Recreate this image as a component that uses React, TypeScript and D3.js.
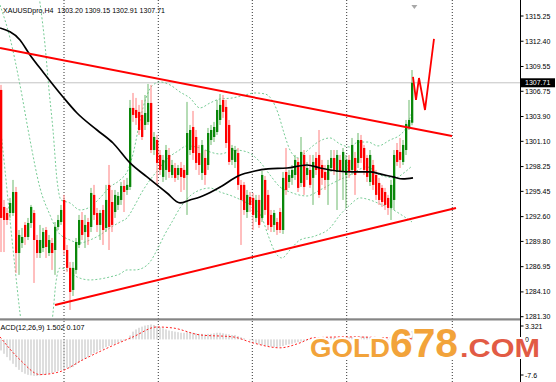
import React from 'react';
import * as d3 from 'd3';

const W = 556;
const H = 382;

const titleText = 'XAUUSDpro,H4  1303.20 1309.15 1302.91 1307.71';
const macdTitle = 'ACD(12,26,9) 1.502 0.107';
const lastPrice = 1307.71;

const priceTicks = [1315.25, 1312.4, 1309.55, 1306.75, 1303.9, 1301.1, 1298.25, 1295.45, 1292.6, 1289.8, 1286.95, 1284.1, 1281.3];
const macdTicks = [3.321, 0, -7.6];
const macdTickLabels = ['3.321', '0.00', '-7.6'];

const opens = [
  1306.90, 1293.69, 1293.01, 1293.01, 1293.01, 1295.38, 1288.49, 1289.62, 1291.66, 1290.30,
  1291.88, 1293.01, 1289.96, 1288.49, 1289.06, 1291.09, 1288.49, 1289.62, 1288.83, 1291.43,
  1291.99, 1294.48, 1288.83, 1286.81, 1284.32, 1286.58, 1289.40, 1292.22, 1290.86, 1291.99,
  1291.43, 1295.05, 1293.01, 1291.66, 1293.35, 1291.32, 1296.18, 1294.25, 1293.12, 1293.92,
  1294.48, 1296.06, 1295.61, 1295.95, 1304.87, 1304.64, 1304.42, 1304.08, 1302.95, 1303.29,
  1305.43, 1300.12, 1301.25, 1299.56, 1297.08, 1297.87, 1299.56, 1297.30, 1298.09, 1297.30,
  1298.09, 1297.87, 1297.30, 1300.12, 1302.72, 1301.59, 1299.78, 1297.53, 1299.22, 1298.43,
  1301.25, 1301.59, 1302.15, 1303.51, 1305.77, 1304.98, 1302.95, 1299.00, 1298.77, 1299.78,
  1296.18, 1296.18, 1293.12, 1294.82, 1294.71, 1292.45, 1294.48, 1292.45, 1296.74, 1295.05,
  1292.79, 1291.66, 1291.99, 1293.12, 1291.09, 1297.64, 1296.51, 1296.97, 1297.30, 1298.77,
  1296.40, 1299.56, 1297.30, 1297.87, 1296.97, 1299.22, 1299.56, 1298.43, 1297.64, 1296.74,
  1298.09, 1299.22, 1297.64, 1299.00, 1297.64, 1297.30, 1299.00, 1297.87, 1299.22, 1298.66,
  1301.25, 1300.35, 1299.22, 1296.51, 1298.43, 1297.30, 1296.40, 1295.84, 1295.38, 1294.71,
  1293.58, 1294.48, 1300.12, 1299.90, 1298.77, 1300.12, 1302.61, 1303.20,
];
const highs = [
  1307.47, 1294.48, 1293.58, 1294.71, 1296.74, 1295.95, 1291.09, 1291.32, 1291.99, 1292.45,
  1293.92, 1293.35, 1290.53, 1291.66, 1291.32, 1291.43, 1290.53, 1290.19, 1291.99, 1292.79,
  1293.92, 1295.05, 1289.40, 1287.48, 1287.48, 1290.19, 1292.79, 1293.12, 1292.79, 1292.45,
  1295.84, 1296.18, 1293.58, 1293.35, 1293.92, 1296.18, 1298.43, 1295.61, 1295.61, 1295.38,
  1296.51, 1296.74, 1296.97, 1305.77, 1306.56, 1306.00, 1305.21, 1305.77, 1306.33, 1307.58,
  1307.47, 1302.15, 1301.82, 1300.12, 1299.56, 1300.69, 1300.35, 1299.00, 1298.66, 1298.43,
  1298.77, 1298.43, 1305.55, 1302.95, 1304.53, 1302.38, 1300.69, 1301.25, 1300.12, 1302.61,
  1302.95, 1303.29, 1305.77, 1306.45, 1306.33, 1305.77, 1303.51, 1300.69, 1300.58, 1300.35,
  1296.74, 1296.51, 1295.61, 1295.38, 1295.27, 1295.05, 1295.05, 1297.76, 1297.19, 1295.61,
  1293.35, 1293.35, 1292.45, 1293.58, 1297.64, 1300.35, 1297.87, 1298.43, 1299.56, 1299.22,
  1301.59, 1300.12, 1298.77, 1299.56, 1299.56, 1299.90, 1302.38, 1299.00, 1298.43, 1299.00,
  1300.12, 1300.12, 1300.12, 1299.56, 1300.35, 1299.56, 1299.56, 1301.48, 1299.90, 1302.04,
  1301.82, 1300.69, 1299.56, 1300.12, 1299.00, 1297.87, 1296.97, 1296.18, 1295.84, 1295.05,
  1296.74, 1300.12, 1300.91, 1301.48, 1301.25, 1303.51, 1305.77, 1309.15,
];
const lows = [
  1288.60, 1288.60, 1291.66, 1292.45, 1292.67, 1286.24, 1286.02, 1289.06, 1289.40, 1289.96,
  1291.32, 1285.11, 1287.93, 1287.93, 1288.60, 1287.93, 1288.15, 1286.58, 1286.02, 1291.09,
  1291.66, 1288.27, 1286.35, 1282.06, 1283.64, 1286.13, 1289.06, 1289.96, 1289.06, 1289.40,
  1290.86, 1292.22, 1290.86, 1289.96, 1289.40, 1290.86, 1288.83, 1290.86, 1292.45, 1293.35,
  1293.92, 1293.12, 1295.05, 1295.61, 1303.29, 1302.95, 1301.82, 1301.25, 1302.38, 1302.95,
  1299.78, 1299.56, 1296.18, 1297.30, 1296.51, 1296.74, 1296.97, 1296.97, 1296.51, 1296.74,
  1295.38, 1295.61, 1292.79, 1299.56, 1299.00, 1297.87, 1297.30, 1296.74, 1296.18, 1297.87,
  1300.69, 1301.02, 1301.82, 1302.95, 1303.74, 1300.35, 1298.43, 1298.43, 1298.09, 1295.61,
  1289.40, 1292.79, 1292.45, 1293.12, 1291.09, 1291.99, 1291.32, 1291.99, 1292.79, 1291.09,
  1290.86, 1290.86, 1290.53, 1290.75, 1290.64, 1295.05, 1295.84, 1296.18, 1296.74, 1295.38,
  1295.95, 1295.05, 1296.74, 1295.84, 1293.92, 1297.30, 1294.71, 1296.18, 1295.61, 1293.92,
  1297.64, 1297.30, 1293.35, 1296.74, 1294.48, 1293.58, 1296.97, 1297.30, 1295.05, 1298.09,
  1298.66, 1297.30, 1296.51, 1296.06, 1295.61, 1294.48, 1293.92, 1293.69, 1293.35, 1292.79,
  1292.22, 1293.35, 1298.32, 1298.09, 1298.43, 1299.56, 1302.38, 1302.91,
];
const closes = [
  1292.45, 1292.22, 1292.22, 1294.14, 1295.38, 1288.49, 1290.53, 1290.30, 1290.30, 1291.88,
  1293.69, 1289.96, 1288.49, 1289.96, 1290.86, 1289.17, 1289.96, 1288.49, 1291.43, 1292.22,
  1293.35, 1288.83, 1286.81, 1284.09, 1286.81, 1289.73, 1292.22, 1290.53, 1291.66, 1290.30,
  1295.27, 1292.79, 1291.66, 1293.01, 1291.09, 1294.48, 1291.43, 1291.66, 1295.05, 1294.93,
  1296.06, 1295.38, 1296.18, 1304.87, 1304.08, 1303.74, 1302.38, 1301.59, 1304.30, 1305.43,
  1300.12, 1301.59, 1298.66, 1297.87, 1299.00, 1300.12, 1297.64, 1298.43, 1296.97, 1298.09,
  1297.08, 1296.97, 1302.04, 1302.38, 1299.78, 1298.66, 1298.43, 1300.69, 1297.30, 1302.04,
  1302.38, 1302.72, 1304.64, 1305.21, 1304.42, 1300.91, 1298.77, 1300.35, 1300.12, 1296.18,
  1294.48, 1293.35, 1295.05, 1293.92, 1292.79, 1294.48, 1291.66, 1297.30, 1293.35, 1291.66,
  1291.43, 1293.01, 1291.09, 1291.09, 1296.97, 1295.61, 1297.30, 1297.87, 1299.00, 1295.84,
  1299.90, 1295.95, 1298.09, 1296.18, 1298.77, 1297.87, 1295.05, 1296.97, 1296.74, 1298.43,
  1299.22, 1297.87, 1299.56, 1297.64, 1299.90, 1299.00, 1297.64, 1300.69, 1297.30, 1301.25,
  1299.22, 1297.87, 1297.08, 1299.56, 1296.18, 1295.05, 1294.48, 1294.25, 1293.92, 1293.58,
  1296.18, 1299.56, 1298.77, 1299.00, 1300.69, 1303.06, 1303.51, 1307.71,
];

// moving average (black), sampled [barIndex, price]
const maPoints: [number, number][] = [
  [-0.33, 1313.9], [6.33, 1312.54], [9.67, 1310.85], [14, 1308.93], [20.67, 1306.11], [25.33, 1304.3],
  [32, 1302.38], [37.33, 1300.91], [43, 1298.66], [48.67, 1297.08], [55.33, 1295.27], [59.67, 1294.14],
  [63, 1294.48], [66.33, 1294.82], [68.67, 1295.16], [73.67, 1296.06], [79, 1297.19], [84.67, 1297.75],
  [89, 1297.98], [95.33, 1298.09], [102, 1298.43], [106.33, 1298.09], [112, 1297.75], [117.33, 1297.64],
  [123, 1297.64], [126.33, 1297.42], [130.67, 1297.08], [134, 1296.85], [137.33, 1296.97],
];

// Bollinger bands, sampled [barIndex, price]
const bandUpper: [number, number][] = [
  [11.33, 1320.45], [13, 1316.72], [14.67, 1311.98], [16, 1306.9], [17.33, 1302.38], [18.67, 1296.74],
  [20, 1294.48], [23, 1294.14], [26.33, 1293.35], [29.67, 1293.69], [33, 1294.71], [36.33, 1295.95],
  [39.67, 1296.74], [42.33, 1297.87], [44.33, 1300.12], [46.33, 1303.51], [48.33, 1305.99], [50.33, 1307.35],
  [53, 1307.8], [56.33, 1307.47], [59.67, 1306.67], [63, 1305.99], [66.33, 1304.87], [69.67, 1305.43],
  [73, 1305.88], [77, 1305.99], [81.33, 1306.33], [84.67, 1306.56], [88, 1306.45], [90.33, 1305.77],
  [92.33, 1304.3], [94.33, 1302.04], [96.33, 1300.12], [99, 1299.22], [102.33, 1300.12], [105.67, 1301.02],
  [109.67, 1301.48], [113, 1300.8], [116.33, 1300.46], [119, 1301.02], [122.33, 1301.02], [125.67, 1300.58],
  [129.67, 1301.25], [133, 1301.82], [135, 1302.61], [137, 1304.42],
];
const bandMiddle: [number, number][] = [
  [-0.33, 1316.49], [3, 1312.77], [6.33, 1307.46], [9.67, 1301.25], [13, 1295.83], [16.33, 1292.78],
  [19, 1290.86], [23, 1289.96], [26.33, 1289.62], [29.67, 1289.96], [33, 1290.53], [36.33, 1291.32],
  [39.67, 1291.99], [42, 1292.45], [44.67, 1293.92], [47, 1295.38], [49.67, 1296.74], [52.33, 1297.87],
  [55, 1299.0], [59, 1300.01], [62, 1300.58], [66.33, 1300.35], [69.67, 1299.9], [73, 1299.67],
  [78, 1300.12], [82, 1299.9], [86.33, 1298.77], [89.67, 1297.3], [93, 1295.95], [96.33, 1295.38],
  [102, 1294.93], [106.33, 1295.61], [111.33, 1296.51], [116.33, 1297.3], [122, 1298.21], [126.33, 1297.3],
  [131.33, 1296.97], [134.67, 1297.64], [137, 1298.32],
];
const bandLower: [number, number][] = [
  [-0.33, 1303.17], [1.33, 1297.87], [3, 1292.22], [4.67, 1286.81], [6.33, 1281.72], [8, 1277.54],
  [11.33, 1273.59], [14.67, 1274.38], [16.33, 1278.67], [17.33, 1281.72], [18.33, 1285.22], [19.67, 1286.81],
  [22, 1286.58], [25.33, 1285.79], [29.67, 1285.45], [33, 1285.56], [36.33, 1285.79], [39.67, 1286.13],
  [42, 1286.58], [44.67, 1286.58], [47.33, 1286.81], [49.67, 1287.48], [52, 1288.83], [54.67, 1290.64],
  [57, 1292.0], [59.67, 1293.58], [63, 1294.93], [66.33, 1295.61], [69.67, 1295.83], [73, 1295.38],
  [77, 1294.93], [81.33, 1294.25], [84.67, 1293.58], [87, 1292.45], [89, 1290.53], [91.33, 1288.61],
  [93.67, 1287.93], [96.33, 1288.83], [99.67, 1289.96], [104.67, 1290.41], [109.67, 1291.32], [113, 1292.79],
  [116.33, 1293.92], [119.67, 1294.71], [123, 1294.48], [126.33, 1294.03], [129.67, 1293.58], [133, 1292.9],
  [137, 1292.0],
];

// trend lines and projection, [barIndex, price]
const trendUpper: [number, number][] = [[-0.33, 1311.64], [150.33, 1301.7]];
const trendLower: [number, number][] = [[18, 1282.63], [151.67, 1293.58]];
const projection: [number, number][] = [
  [137.33, 1308.37], [138.33, 1305.77], [139.33, 1308.25], [141.33, 1304.64], [144.33, 1312.66],
];

// period separators (bar index)
const separators = [21, 52.43, 83.77, 115.23, 150.43];
const shiftMarkerIndex = 137.8;

// MACD main (histogram) per bar, and signal (sampled)
const macdMain = [
  -2.0, -2.6, -3.2, -3.8, -4.4, -5.0, -5.5, -5.9, -6.2, -6.4,
  -6.5, -6.6, -6.6, -6.5, -6.4, -6.3, -6.2, -6.1, -5.9, -5.7,
  -5.5, -5.3, -5.2, -5.2, -5.0, -4.6, -4.2, -3.8, -3.5, -3.2,
  -2.8, -2.5, -2.2, -1.9, -1.7, -1.4, -1.2, -1.0, -0.8, -0.6,
  -0.4, -0.2, 0.0, 0.7, 1.4, 1.8, 2.1, 2.3, 2.5, 2.6,
  2.7, 2.6, 2.4, 2.2, 2.0, 1.8, 1.6, 1.5, 1.4, 1.3,
  1.2, 1.2, 1.3, 1.3, 1.2, 1.1, 1.0, 1.0, 0.9, 1.0,
  1.0, 1.1, 1.2, 1.2, 1.1, 1.0, 0.9, 0.8, 0.8, 0.6,
  0.4, 0.2, 0.0, -0.2, -0.4, -0.7, -0.9, -1.0, -1.1, -1.2,
  -1.3, -1.4, -1.4, -1.3, -1.2, -1.0, -0.9, -0.8, -0.6, -0.5,
  -0.4, -0.3, -0.2, -0.1, 0.0, 0.1, 0.1, 0.2, 0.2, 0.2,
  0.3, 0.3, 0.3, 0.3, 0.3, 0.4, 0.4, 0.4, 0.5, 0.5,
  0.5, 0.5, 0.5, 0.4, 0.4, 0.3, 0.2, 0.1, 0.0, -0.1,
  -0.2, -0.2, 0.0, 0.2, 0.3, 0.5, 0.8, 1.502,
];
const macdSignal: [number, number][] = [
  [-0.33, 0.45], [6.33, -3.67], [13, -6.35], [19.67, -5.82], [27.33, -3.67], [36.33, -1.34],
  [44, 0.45], [52, 2.24], [57.33, 2.06], [66.33, 0.81], [77.33, 0.45], [84, -0.63],
  [93, -1.52], [99.67, -0.63], [104, 0.27], [115.33, 0.45], [129.67, 0.27], [137, 0.107],
];

const FONT = 'Liberation Sans, Arial, sans-serif';

export default function App() {
  const plotRight = 520.5;
  const mainBottom = 318;
  const subTop = 321;
  const x = d3.scaleLinear().domain([0, 137]).range([1, 412]);
  const y = d3.scaleLinear().domain([1281.3, 1315.25]).range([316.7, 16]);
  const ym = d3.scaleLinear().domain([-7.6, 3.321]).range([381.5, 321]);

  const lineP = d3.line<[number, number]>().x(d => x(d[0])).y(d => y(d[1]));
  const curveP = d3.line<[number, number]>().x(d => x(d[0])).y(d => y(d[1])).curve(d3.curveMonotoneX);
  const curveM = d3.line<[number, number]>().x(d => x(d[0])).y(d => ym(d[1])).curve(d3.curveMonotoneX);

  const bandStyle = { fill: 'none', stroke: '#5fc283', strokeWidth: 1, strokeDasharray: '2 2', opacity: 0.85 };
  const yLast = y(lastPrice);
  const xs = x(shiftMarkerIndex);

  return (
    <svg width={W} height={H} style={{ position: 'fixed', left: 0, top: 0, background: '#fff' }} fontFamily={FONT}>
      <defs>
        <clipPath id="mainClip"><rect x={0} y={0} width={plotRight} height={mainBottom} /></clipPath>
        <clipPath id="subClip"><rect x={0} y={subTop} width={plotRight} height={H - subTop} /></clipPath>
      </defs>
      <rect x={0} y={0} width={W} height={H} fill="#fff" />

      {/* separators */}
      {separators.map((s, k) => (
        <line key={k} x1={x(s)} x2={x(s)} y1={0} y2={H} stroke="#333" strokeWidth={1} strokeDasharray="1 2" />
      ))}

      <g clipPath="url(#mainClip)">
        <line x1={0} x2={plotRight} y1={yLast} y2={yLast} stroke="#c4c4c4" strokeWidth={1} />
        <path d={curveP(bandUpper) || ''} {...bandStyle} />
        <path d={curveP(bandMiddle) || ''} {...bandStyle} />
        <path d={curveP(bandLower) || ''} {...bandStyle} />
        {opens.map((o, i) => {
          const c = closes[i];
          const up = c >= o;
          const xi = x(i);
          const top = y(Math.max(o, c));
          const bot = y(Math.min(o, c));
          return (
            <g key={i}>
              <line x1={xi} x2={xi} y1={y(highs[i])} y2={y(lows[i])} stroke={up ? '#6cb96c' : '#ff7f7f'} strokeWidth={1} />
              <rect x={xi - 1} y={top} width={2.3} height={Math.max(1, bot - top)} fill={up ? '#0a870a' : '#ff0000'} />
            </g>
          );
        })}
        <path d={curveP(maPoints) || ''} fill="none" stroke="#000" strokeWidth={1.7} />
        <path d={lineP(trendUpper) || ''} fill="none" stroke="#ff0000" strokeWidth={2} />
        <path d={lineP(trendLower) || ''} fill="none" stroke="#ff0000" strokeWidth={2} />
        <path d={lineP(projection) || ''} fill="none" stroke="#ff0000" strokeWidth={1.8} strokeLinejoin="miter" />
      </g>

      <path d={`M${xs - 3},5 L${xs + 3},5 L${xs},9 Z`} fill="#a8a8a8" />
      <text x={3} y={13} fontSize={7.2} fill="#000" style={{ whiteSpace: 'pre' }} textLength={162} lengthAdjust="spacingAndGlyphs">{titleText}</text>

      {/* window separator */}
      <rect x={0} y={mainBottom + 0.3} width={plotRight} height={2.2} fill="#858585" />

      {/* MACD window */}
      <g clipPath="url(#subClip)">
        {macdMain.map((v, i) => (
          <line key={i} x1={x(i)} x2={x(i)} y1={ym(0)} y2={ym(v)} stroke="#bdbdbd" strokeWidth={1} />
        ))}
        <path d={curveM(macdSignal) || ''} fill="none" stroke="#ff2020" strokeWidth={1} strokeDasharray="2 2" />
      </g>
      <text x={0.5} y={329.5} fontSize={7.2} fill="#000">{macdTitle}</text>

      {/* right axis */}
      <line x1={plotRight} x2={plotRight} y1={0} y2={H} stroke="#000" strokeWidth={1} />
      {priceTicks.map((p, k) => (
        <g key={k}>
          <line x1={plotRight} x2={plotRight + 3} y1={y(p)} y2={y(p)} stroke="#000" />
          <text x={525} y={y(p) + 2.5} fontSize={7} fill="#000">{p.toFixed(2)}</text>
        </g>
      ))}
      <rect x={521} y={yLast - 4.5} width={34} height={9} fill="#000" />
      <text x={525} y={yLast + 2.5} fontSize={7} fill="#fff">{lastPrice.toFixed(2)}</text>
      {macdTicks.map((v, k) => {
        const yy = Math.min(Math.max(ym(v), subTop + 5), H - 7);
        return (
          <g key={k}>
            <line x1={plotRight} x2={plotRight + 3} y1={yy} y2={yy} stroke="#000" />
            <text x={525} y={yy + 2.5} fontSize={7} fill="#000">{macdTickLabels[k]}</text>
          </g>
        );
      })}

      {/* watermark */}
      <g fontFamily={FONT} fontWeight="bold" stroke="#fff" strokeWidth={4} strokeLinejoin="round" style={{ paintOrder: 'stroke' }}>
        <text x={310} y={357.3} fontSize={25} fill="#f2a33a" textLength={80} lengthAdjust="spacingAndGlyphs">GOLD</text>
        <text x={390} y={357.3} fontSize={41} fill="#f2a33a" textLength={68} lengthAdjust="spacingAndGlyphs">678</text>
        <text x={460} y={357.3} fontSize={26} fill="#e25b45" textLength={80} lengthAdjust="spacingAndGlyphs">.COM</text>
      </g>
    </svg>
  );
}
